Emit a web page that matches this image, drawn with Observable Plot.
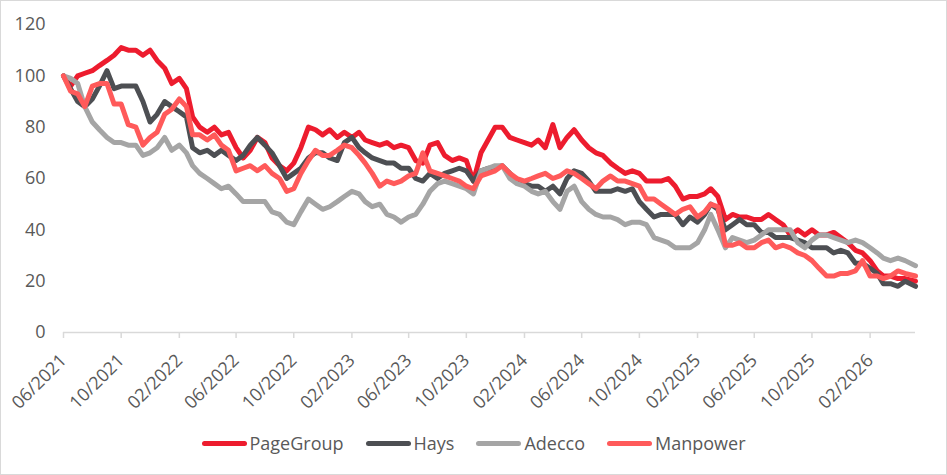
<!DOCTYPE html>
<html><head><meta charset="utf-8">
<script src="https://cdn.jsdelivr.net/npm/d3@7"></script>
<script src="https://cdn.jsdelivr.net/npm/@observablehq/plot@0.6"></script>
<style>
body{margin:0;background:#fff;}
#frame{width:947px;height:475px;box-sizing:border-box;border:1px solid #d9d9d9;font-family:"Open Sans",sans-serif;overflow:hidden;background:#fff;}
#chart svg{display:block;}
#legend{display:flex;justify-content:center;align-items:center;font-size:18px;color:#595959;margin-top:14px;height:26px;}
.item{display:flex;align-items:center;margin:0 11px;}
.sw{width:45px;height:5px;margin-right:3px;border-radius:3px;}
</style></head>
<body><div id="frame"><div id="chart"></div><div id="legend"></div></div>
<script>
const dates = [
"2021-06-01","2021-06-16","2021-07-01","2021-07-16","2021-08-01","2021-08-16","2021-09-01","2021-09-16","2021-10-01","2021-10-16","2021-11-01","2021-11-16","2021-12-01","2021-12-16",
"2022-01-01","2022-01-16","2022-02-01","2022-02-16","2022-03-01","2022-03-16","2022-04-01","2022-04-16","2022-05-01","2022-05-16","2022-06-01","2022-06-16","2022-07-01","2022-07-16","2022-08-01","2022-08-16","2022-09-01","2022-09-16","2022-10-01","2022-10-16","2022-11-01","2022-11-16","2022-12-01","2022-12-16",
"2023-01-01","2023-01-16","2023-02-01","2023-02-16","2023-03-01","2023-03-16","2023-04-01","2023-04-16","2023-05-01","2023-05-16","2023-06-01","2023-06-16","2023-07-01","2023-07-16","2023-08-01","2023-08-16","2023-09-01","2023-09-16","2023-10-01","2023-10-16","2023-11-01","2023-11-16","2023-12-01","2023-12-16",
"2024-01-01","2024-01-16","2024-02-01","2024-02-16","2024-03-01","2024-03-16","2024-04-01","2024-04-16","2024-05-01","2024-05-16","2024-06-01","2024-06-16","2024-07-01","2024-07-16","2024-08-01","2024-08-16","2024-09-01","2024-09-16","2024-10-01","2024-10-16","2024-11-01","2024-11-16","2024-12-01","2024-12-16",
"2025-01-01","2025-01-16","2025-02-01","2025-02-16","2025-03-01","2025-03-16","2025-04-01","2025-04-16","2025-05-01","2025-05-16","2025-06-01","2025-06-16","2025-07-01","2025-07-16","2025-08-01","2025-08-16","2025-09-01","2025-09-16","2025-10-01","2025-10-16","2025-11-01","2025-11-16","2025-12-01","2025-12-16",
"2026-01-01","2026-01-16","2026-02-01","2026-02-16","2026-03-01","2026-03-16","2026-04-01","2026-04-16","2026-05-08"];

const pageGroup = [100,96,100,101,102,104,106,108,111,110,110,108,110,106,103,97,99,95,84,80,78,80,77,78,72,68,71,76,74,68,65,63,66,72,80,79,77,79,76,78,76,78,75,74,73,74,72,73,72,67,66,73,74,69,67,68,67,59,70,75,80,80,76,75,74,73,75,72,81,72,76,79,75,72,70,69,66,64,62,63,62,59,59,59,60,57,52,53,53,54,56,53,44,46,45,45,44,44,46,44,42,38,40,38,40,38,38,39,37,35,32,31,28,24,22,22,21,21,20];
const hays = [100,95,90,88,91,96,102,95,96,96,96,90,82,85,90,88,86,84,72,70,71,69,71,69,67,69,73,76,73,70,65,60,62,64,68,70,70,68,67,74,76,72,70,68,67,66,66,64,64,60,59,62,60,62,63,64,63,59,63,64,64,65,62,59,58,57,57,55,57,54,60,63,62,59,55,55,55,56,55,56,51,48,45,46,46,46,42,45,43,46,50,48,40,42,44,42,42,39,39,37,37,37,36,35,33,33,33,31,32,31,27,27,25,23,19,19,18,20,18];
const adecco = [100,99,97,88,82,79,76,74,74,73,73,69,70,72,76,71,73,70,65,62,60,58,56,57,54,51,51,51,51,47,46,43,42,47,52,50,48,49,51,53,55,54,51,49,50,46,45,43,45,46,50,55,58,59,58,57,56,54,63,64,65,65,60,58,57,55,54,55,51,48,55,57,51,48,46,45,45,44,42,43,43,42,37,36,35,33,33,33,35,40,46,40,33,37,36,35,36,38,40,40,40,40,35,33,36,38,38,37,36,35,36,35,33,31,29,28,29,28,26];
const manpower = [100,94,93,88,96,97,97,89,89,81,80,73,76,78,85,87,91,88,77,77,75,77,73,71,63,64,65,63,65,62,60,55,56,62,67,71,69,69,71,73,72,69,66,62,57,59,58,59,61,62,70,63,62,61,60,59,57,56,61,62,63,65,62,60,59,60,61,62,60,61,63,62,60,58,56,59,61,59,59,58,57,52,52,50,48,46,48,49,45,47,50,49,34,34,35,33,33,35,36,33,34,33,31,30,28,25,22,22,23,23,24,28,22,22,21,22,24,23,22];

const seriesNames = ["PageGroup", "Hays", "Adecco", "Manpower"];
const seriesColors = ["#ED1C2E", "#4D4F53", "#A5A5A5", "#FF5A5A"];
const tickLabels = ["06/2021","10/2021","02/2022","06/2022","10/2022","02/2023","06/2023","10/2023","02/2024","06/2024","10/2024","02/2025","06/2025","10/2025","02/2026"];
const yTicks = [0, 20, 40, 60, 80, 100, 120];

const parseDate = d3.utcParse("%Y-%m-%d");
const parseTick = d3.utcParse("%m/%Y");
const values = [pageGroup, hays, adecco, manpower];
const series = seriesNames.map((name, s) => ({
  name, color: seriesColors[s],
  rows: dates.map((d, i) => ({date: parseDate(d), value: values[s][i]}))
}));
const tickDates = tickLabels.map(parseTick);

const chart = Plot.plot({
  width: 945, height: 415,
  marginLeft: 62, marginRight: 31, marginTop: 23, marginBottom: 84,
  style: {fontFamily: "Open Sans", fontSize: "18px", color: "#595959", background: "white"},
  x: {type: "utc", domain: [parseDate(dates[0]), parseDate(dates[dates.length - 1])]},
  y: {domain: [0, 120]},
  marks: [
    Plot.axisY({ticks: yTicks, tickSize: 0, tickPadding: 18, fontSize: 18, fill: "#595959", label: null}),
    Plot.axisX({ticks: tickDates, tickFormat: d3.utcFormat("%m/%Y"), tickRotate: -45, tickSize: 6, tickPadding: 19,
      stroke: "#d9d9d9", strokeWidth: 1.5, fontSize: 18, fill: "#595959", label: null}),
    Plot.ruleY([0], {stroke: "#d9d9d9", strokeWidth: 1.5}),
    ...series.map(s => Plot.line(s.rows, {x: "date", y: "value", stroke: s.color, strokeWidth: 5, strokeLinejoin: "round", strokeLinecap: "round"}))
  ]
});
document.getElementById("chart").appendChild(chart);

const legend = document.getElementById("legend");
series.forEach(s => {
  const it = document.createElement("div");
  it.className = "item";
  const sw = document.createElement("span");
  sw.className = "sw";
  sw.style.background = s.color;
  const tx = document.createElement("span");
  tx.textContent = s.name;
  it.appendChild(sw); it.appendChild(tx);
  legend.appendChild(it);
});
</script>
</body></html>
